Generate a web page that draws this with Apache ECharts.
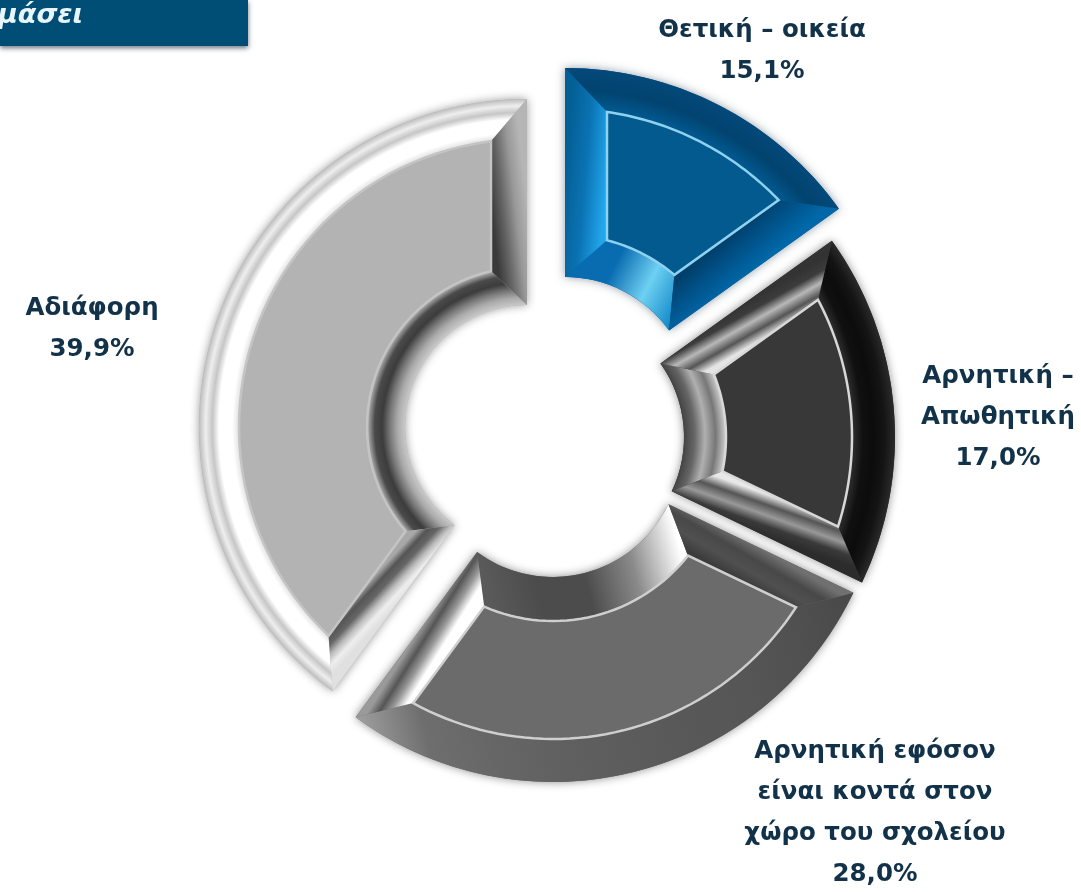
<!DOCTYPE html>
<html>
<head>
<meta charset="utf-8">
<style>
  html, body { margin: 0; padding: 0; background: #fff; }
  #chart { width: 1081px; height: 892px; }
</style>
</head>
<body>
<div id="chart"></div>
<script src="https://cdn.jsdelivr.net/npm/echarts@6/dist/echarts.min.js"></script>
<script>
const categories = ['Θετική – οικεία', 'Αρνητική –\nΑπωθητική', 'Αρνητική εφόσον\nείναι κοντά στον\nχώρο του σχολείου', 'Αδιάφορη'];
const values = [15.1, 17.0, 28.0, 39.9];
const headerText = 'μάσει';

// each slice is pulled out of the ring by hand, so each has its own centre
const centers = [[565, 405], [558, 437], [553, 449], [527, 427]];
const radii = [[128, 337], [126, 337], [128, 333], [122, 328]];
const faceRadii = [[170, 296], [168, 294], [172, 290], [160, 288]];
const insets = [42, 40, 38, 36];
const labelPos = [[762, 51], [998, 418], [875, 813], [92, 329]];

const faces = ['#035a8e', '#383838', '#6b6b6b', '#b3b3b3'];
const faceLines = ['#8fd2ef', '#d8d8d8', '#cfcfcf', '#c4c4c4'];
const glow = ['rgba(40,60,80,0.5)', 'rgba(0,0,0,0.45)', 'rgba(0,0,0,0.45)', 'rgba(0,0,0,0.4)'];

// colour stops for the bevels: [across or along, colours from edge to face / start to end]
const bevels = [
  {
    outer: ['across', ['#03497a', '#02436f', '#015a92']],
    inner: ['along', ['#0a6cb0', '#0a6cb0', '#6ed0f2', '#0f86c8']],
    start: ['across', ['#045f95', '#0b74b5', '#22a6ec']],
    end: ['across', ['#0068a8', '#01548c', '#013f6c']]
  },
  {
    outer: ['across', ['#2a2a2a', '#141414', '#0c0c0c', '#101010', '#303030']],
    inner: ['across', ['#444444', '#666666', '#b0b0b0', '#777777', '#d0d0d0']],
    start: ['across', ['#333333', '#3c3c3c', '#b8b8b8', '#555555', '#e4e4e4']],
    end: ['across', ['#2c2c2c', '#3a3a3a', '#999999', '#555555', '#e8e8e8']]
  },
  {
    outer: ['along', ['#484848', '#505050', '#565656', '#585858', '#5c5c5c', '#606060', '#666666', '#6e6e6e', '#a0a0a0']],
    inner: ['along', ['#ffffff', '#8a8a8a', '#4c4c4c', '#4c4c4c', '#5a5a5a']],
    start: ['across', ['#707070', '#484848', '#505050', '#3c3c3c']],
    end: ['across', ['#9a9a9a', '#555555', '#999999', '#ffffff', '#ffffff']]
  },
  {
    outer: ['across', ['#bdbdbd', '#eeeeee', '#c6c6c6', '#ffffff', '#ffffff', '#ffffff', '#e0e0e0']],
    inner: ['across', ['#c8c8c8', '#aaaaaa', '#777777', '#3c3c3c', '#4a4a4a', '#b8b8b8']],
    start: ['across', ['#e0e0e0', '#eeeeee', '#bbbbbb', '#666666', '#555555', '#a8a8a8']],
    end: ['across', ['#b5b5b5', '#999999', '#666666', '#3a3a3a']]
  }
];

const chart = echarts.init(document.getElementById('chart'));

const label = (v) => v.toFixed(1).replace('.', ',') + '%';
const stops = (list) => list.map((color, i) => ({ offset: i / (list.length - 1), color }));

const gradient = (a, b, list) => ({
  type: 'linear', global: true, x: a[0], y: a[1], x2: b[0], y2: b[1], colorStops: stops(list)
});

// ring gradient, colours run from radius ra to radius rb
const ringGradient = (c, ra, rb, list) => {
  const R = Math.max(ra, rb);
  const colorStops = list.map((color, i) => ({
    offset: (ra + (rb - ra) * i / (list.length - 1)) / R,
    color
  })).sort((p, q) => p.offset - q.offset);
  return { type: 'radial', global: true, x: c[0], y: c[1], r: R, colorStops };
};

const mid = (p, q) => [(p[0] + q[0]) / 2, (p[1] + q[1]) / 2];

// arc through the api so the points come from the polar axes of the slice
const arc = (api, r, from, to, n) => {
  const pts = [];
  for (let k = 0; k <= n; k++) {
    pts.push(api.coord([r, from + (to - from) * k / n]));
  }
  return pts;
};

const insetPct = (d, r) => Math.asin(d / r) / (2 * Math.PI) * 100;

const band = (points, grad) => ({
  type: 'polygon',
  shape: { points },
  style: { fill: grad, stroke: null }
});

const renderSlice = (i, from, to) => (params, api) => {
  const [r0, r1] = radii[i];
  const [f0, f1] = faceRadii[i];
  const d = insets[i];
  const c = api.coord([0, 0]);
  const out = arc(api, r1, from, to, 48);
  const inn = arc(api, r0, from, to, 32);
  const fOut = arc(api, f1, from + insetPct(d, f1), to - insetPct(d, f1), 48);
  const fIn = arc(api, f0, from + insetPct(d, f0), to - insetPct(d, f0), 32);
  const b = bevels[i];
  const last = (a) => a[a.length - 1];

  const side = (spec, edgeA, edgeB, faceA, faceB) => gradient(mid(edgeA, edgeB), mid(faceA, faceB), spec[1]);
  const curved = (spec, edge, face, rEdge, rFace) => spec[0] === 'along'
    ? gradient(edge[0], last(edge), spec[1])
    : ringGradient(c, rEdge, rFace, spec[1]);

  return {
    type: 'group',
    children: [
      band(out.concat(fOut.slice().reverse()), curved(b.outer, out, fOut, r1, f1)),
      band(inn.concat(fIn.slice().reverse()), curved(b.inner, inn, fIn, r0, f0)),
      band([out[0], fOut[0], fIn[0], inn[0]], side(b.start, out[0], inn[0], fOut[0], fIn[0])),
      band([last(out), last(fOut), last(fIn), last(inn)], side(b.end, last(out), last(inn), last(fOut), last(fIn))),
      {
        type: 'polygon',
        shape: { points: fOut.concat(fIn.slice().reverse()) },
        style: { fill: faces[i], stroke: faceLines[i], lineWidth: 2.5 }
      }
    ]
  };
};

let cum = 0;
const pies = [];
const overlays = [];
const polar = [];
const angleAxis = [];
const radiusAxis = [];

values.forEach((v, i) => {
  const from = cum;
  const to = cum + v;
  cum = to;
  polar.push({ center: centers[i], radius: [0, radii[i][1]] });
  angleAxis.push({ polarIndex: i, min: 0, max: 100, startAngle: 90, show: false });
  radiusAxis.push({ polarIndex: i, min: 0, max: radii[i][1], show: false });

  pies.push({
    type: 'pie',
    center: centers[i],
    radius: radii[i],
    startAngle: 90 - from * 3.6,
    silent: true,
    animation: false,
    z: 1,
    label: {
      show: true,
      position: 'outside',
      formatter: () => categories[i] + '\n' + label(v),
      color: '#12324a',
      fontFamily: 'DejaVu Sans',
      fontWeight: 'bold',
      fontSize: 24.5,
      lineHeight: 41,
      align: 'center',
      width: 340,
      overflow: 'none'
    },
    labelLine: { show: false },
    labelLayout: () => ({ x: labelPos[i][0], y: labelPos[i][1], align: 'center', verticalAlign: 'middle' }),
    data: [
      { name: categories[i], value: v, itemStyle: { color: faces[i], shadowBlur: 10, shadowColor: glow[i] } },
      { name: '', value: 100 - v, itemStyle: { color: 'transparent' }, label: { show: false } }
    ]
  });

  overlays.push({
    type: 'custom',
    coordinateSystem: 'polar',
    polarIndex: i,
    silent: true,
    animation: false,
    clip: false,
    z: 2,
    data: [[radii[i][1], from]],
    renderItem: renderSlice(i, from, to)
  });
});

chart.setOption({
  backgroundColor: '#ffffff',
  polar,
  angleAxis,
  radiusAxis,
  series: pies.concat(overlays),
  graphic: [
    {
      type: 'rect',
      shape: { x: 0, y: 0, width: 248, height: 46 },
      style: { fill: '#004d75', shadowBlur: 5, shadowColor: 'rgba(0,20,40,0.6)', shadowOffsetY: 2 }
    },
    {
      type: 'text',
      x: -2,
      y: 2,
      style: {
        text: headerText,
        fill: '#e8f6fb',
        font: 'italic bold 27px "DejaVu Sans"'
      }
    }
  ]
});
</script>
</body>
</html>
